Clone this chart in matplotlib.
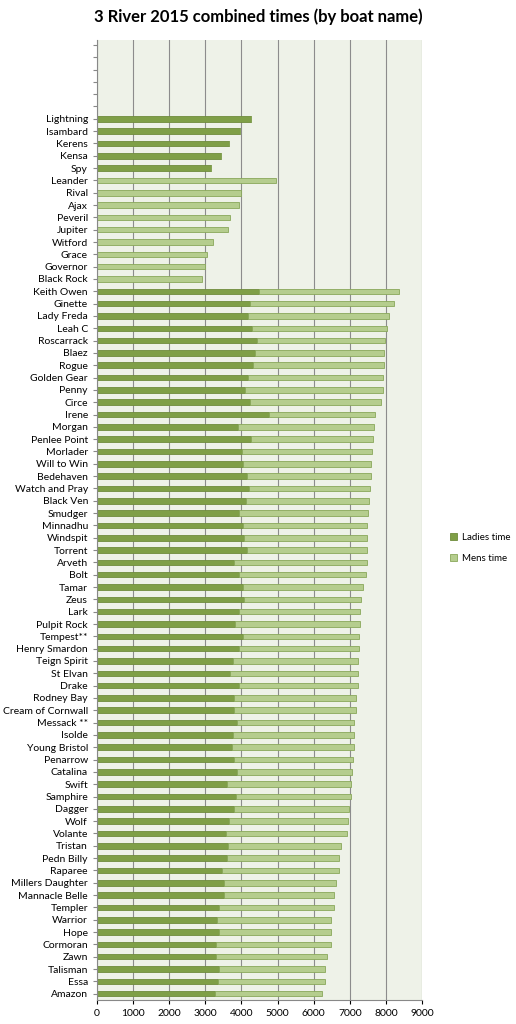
import matplotlib.pyplot as plt

plt.rcParams['font.family'] = ['Lato', 'DejaVu Sans']

boats = ["Amazon", "Essa", "Talisman", "Zawn", "Cormoran", "Hope", "Warrior", "Templer",
         "Mannacle Belle", "Millers Daughter", "Raparee", "Pedn Billy", "Tristan", "Volante",
         "Wolf", "Dagger", "Samphire", "Swift", "Catalina", "Penarrow", "Young Bristol",
         "Isolde", "Messack **", "Cream of Cornwall", "Rodney Bay", "Drake", "St Elvan",
         "Teign Spirit", "Henry Smardon", "Tempest**", "Pulpit Rock", "Lark", "Zeus", "Tamar",
         "Bolt", "Arveth", "Torrent", "Windspit", "Minnadhu", "Smudger", "Black Ven",
         "Watch and Pray", "Bedehaven", "Will to Win", "Morlader", "Penlee Point", "Morgan",
         "Irene", "Circe", "Penny", "Golden Gear", "Rogue", "Blaez", "Roscarrack", "Leah C",
         "Lady Freda", "Ginette", "Keith Owen", "Black Rock", "Governor", "Grace", "Witford",
         "Jupiter", "Peveril", "Ajax", "Rival", "Leander", "Spy", "Kensa", "Kerens",
         "Isambard", "Lightning", "", "", "", "", "", "", ""]

ladies = [3258, 3342, 3378, 3295, 3295, 3369, 3323, 3378, 3508, 3508, 3452, 3591, 3619, 3563,
          3665, 3803, 3840, 3600, 3877, 3803, 3729, 3757, 3868, 3803, 3803, 3932, 3683,
          3757, 3932, 4034, 3822, 3932, 4062, 4034, 3942, 3794, 4145, 4062, 4034, 3942,
          4117, 4200, 4145, 4034, 4015, 4255, 3895, 4754, 4228, 4089, 4172, 4311, 4366,
          4431, 4292, 4172, 4228, 4495, 0, 0, 0, 0, 0, 0, 0, 0, 0, 3157, 3425, 3655, 3951,
          4274, 0, 0, 0, 0, 0, 0, 0]

totals = [6240, 6323, 6323, 6360, 6489, 6489, 6489, 6572, 6572, 6628, 6692, 6711, 6766, 6932,
          6960, 6988, 7025, 7043, 7071, 7099, 7126, 7126, 7126, 7163, 7163, 7219, 7237,
          7237, 7246, 7265, 7283, 7283, 7320, 7366, 7440, 7468, 7468, 7468, 7486, 7505,
          7542, 7569, 7579, 7579, 7625, 7652, 7662, 7708, 7855, 7920, 7929, 7957, 7957,
          7985, 8040, 8096, 8216, 8373, 2899, 2982, 3055, 3222, 3619, 3674, 3942, 3997, 4966,
          3157, 3425, 3655, 3951, 4274, 0, 0, 0, 0, 0, 0, 0]

mens = [t - l for t, l in zip(totals, ladies)]
ypos = list(range(len(boats)))

fig = plt.figure(figsize=(5.16, 10.24), dpi=100)
ax = fig.add_axes([0.188, 0.023, 0.63, 0.938])
ax.set_facecolor("#eef2e8")

ax.barh(ypos, ladies, height=0.45, color="#7f9f47", edgecolor="#6f8c3c", linewidth=0.6,
        label="Ladies time")
ax.barh(ypos, mens, left=ladies, height=0.45, color="#b5cd8e", edgecolor="#89a85a",
        linewidth=0.6, label="Mens time")

ax.set_yticks(ypos)
ax.set_yticklabels(boats, fontsize=7.5)
ax.set_ylim(-0.55, len(boats) - 1.6)
ax.set_xlim(0, 9000)
ax.set_xticks(range(0, 9001, 1000))
ax.tick_params(axis="x", labelsize=7.5, length=3)
ax.tick_params(axis="y", length=3, color="#888888")
ax.grid(axis="x", color="#8c8c8c", linewidth=0.8)
ax.set_axisbelow(True)
for s in ["top", "right"]:
    ax.spines[s].set_visible(False)
ax.spines["left"].set_color("#888888")
ax.spines["bottom"].set_color("#888888")

fig.suptitle("3 River 2015 combined times (by boat name)", fontsize=12, fontweight="bold",
             y=0.992)
fig.legend(loc="center left", bbox_to_anchor=(0.855, 0.465), frameon=False, fontsize=7,
           handlelength=0.7, handleheight=0.7, labelspacing=1.2, handletextpad=0.5)

fig.savefig("out.png", dpi=100)
